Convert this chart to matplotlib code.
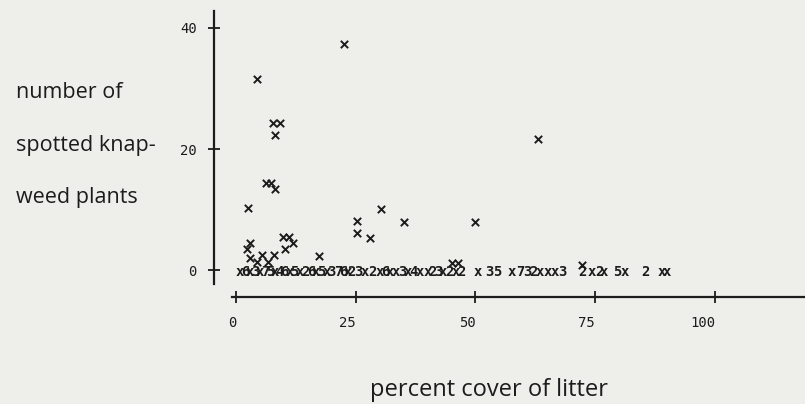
import matplotlib
matplotlib.use("Agg")
import matplotlib.pyplot as plt

# points plotted as x above the zero row
litter = [22.5, 4.4, 7.7, 9.2, 8.1, 6.3, 7.3, 8.1, 2.5, 25.3, 30.3, 35.1,
          25.3, 28.0, 9.8, 11.1, 11.9, 10.2, 2.9, 2.3, 2.9, 5.4, 7.9, 17.3,
          49.9, 63.0, 72.2, 45.1, 46.3, 4.4, 6.7]
plants = [37.3, 31.6, 24.3, 24.3, 22.4, 14.4, 14.4, 13.4, 10.3, 8.1, 10.1, 7.9,
          6.1, 5.3, 5.5, 5.5, 4.5, 3.6, 4.5, 3.6, 2.1, 2.5, 2.5, 2.3,
          7.9, 21.7, 0.8, 1.2, 1.2, 1.3, 1.3]

# zero row: single points are x, stacked points are shown as counts
zero_x = [0.8, 1.9, 2.9, 4.0, 5.0, 6.1, 7.1, 8.1, 9.0, 10.0, 11.3, 12.1, 13.4,
          14.4, 15.7, 16.7, 17.7, 19.0, 20.0, 21.3, 22.3, 23.4, 24.2, 25.5,
          26.9, 28.4, 30.1, 31.1, 32.2, 33.4, 34.7, 35.9, 37.0, 38.4, 40.1,
          41.1, 42.2, 43.2, 44.5, 45.9, 47.0, 50.5, 53.0, 54.5, 57.6, 59.3,
          60.8, 62.0, 63.5, 65.1, 66.6, 68.1, 72.4, 74.3, 75.8, 76.8, 79.7,
          81.2, 85.4, 88.9, 90.0]
zero_lab = ["x", "6", "x", "3", "x", "7", "5", "x", "4", "6", "x", "5", "x",
            "2", "6", "x", "5", "x", "3", "7", "6", "x", "2", "3",
            "x", "2", "x", "6", "x", "x", "3", "x", "4", "x", "x",
            "2", "3", "x", "2", "x", "2", "x", "3", "5", "x", "7",
            "3", "2", "x", "x", "x", "3", "2", "x", "2", "x", "5",
            "x", "2", "x", "x"]

xticks = [0, 25, 50, 75, 100]
yticks = [0, 20, 40]

ink = "#1c1c1c"
paper = "#eeeeeb"
mono = "DejaVu Sans Mono"
label_font = "Open Sans"

fig = plt.figure(figsize=(8.05, 4.04), dpi=100, facecolor=paper)
ax = fig.add_axes([214 / 805, 1 - 297 / 404, (805 - 214) / 805, (297 - 11) / 404])
ax.set_facecolor(paper)
ax.set_xlim(-4.6, 118.8)
ax.set_ylim(-4.4, 42.8)

ax.scatter(litter, plants, marker="x", s=28, linewidths=1.4, color=ink)
for xv, lab in zip(zero_x, zero_lab):
    ax.text(xv, -0.3, lab, ha="center", va="center", fontsize=10,
            family=mono, fontweight="bold", color=ink)

for side in ["top", "right"]:
    ax.spines[side].set_visible(False)
ax.spines["left"].set_bounds(-2.3, 42.8)
ax.spines["bottom"].set_bounds(-0.8, 118.8)
for side in ["left", "bottom"]:
    ax.spines[side].set_color(ink)
    ax.spines[side].set_linewidth(1.6)

ax.set_xticks(xticks)
ax.set_yticks(yticks)
ax.set_xticklabels([str(v) for v in xticks], family=mono, fontsize=10, color=ink)
ax.set_yticklabels([str(v) for v in yticks], family=mono, fontsize=10, color=ink)
plt.setp(ax.get_xticklabels(), ha="right")
ax.tick_params(axis="x", direction="inout", length=8, width=1.3, pad=10, colors=ink)
ax.tick_params(axis="y", direction="inout", length=9, width=1.3, pad=8, colors=ink)

ylab_lines = ["number of", "spotted knap-", "weed plants"]
for i, line in enumerate(ylab_lines):
    fig.text(16 / 805, 1 - (93 + 52 * i) / 404, line, fontsize=15.5,
             family=label_font, color=ink, va="center")
fig.text(489 / 805, 1 - 390 / 404, "percent cover of litter", fontsize=17,
         family=label_font, color=ink, ha="center", va="center")

fig.savefig("out.png", dpi=100, facecolor=paper)
